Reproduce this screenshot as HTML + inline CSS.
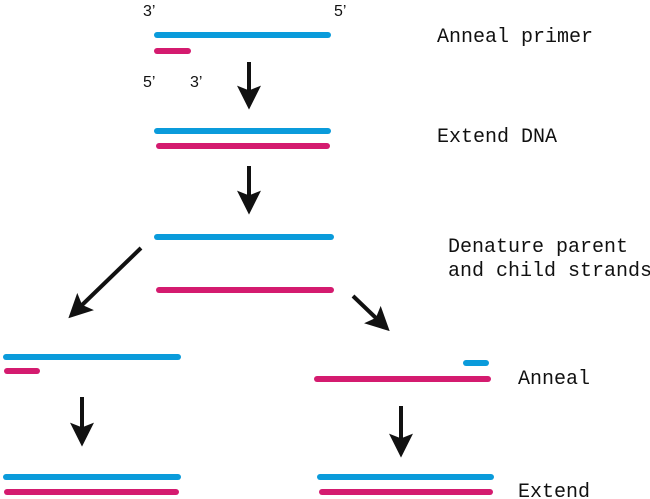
<!DOCTYPE html>
<html><head><style>html,body{margin:0;padding:0;background:#fff}svg{display:block}</style></head>
<body>
<svg width="650" height="499" viewBox="0 0 650 499" xmlns="http://www.w3.org/2000/svg">
<defs>
<marker id="ah" markerWidth="6" markerHeight="6" refX="1.6" refY="3" orient="auto" markerUnits="strokeWidth">
<path d="M0,0 L6,3 L0,6 L1.2,3 Z" fill="#111"/>
</marker>
</defs>
<g stroke-linecap="round" stroke-width="6" fill="none">
<line x1="157" y1="35" x2="328" y2="35" stroke="#0a9bdb"/>
<line x1="157" y1="51" x2="188" y2="51" stroke="#d41b6f"/>
<line x1="157" y1="131" x2="328" y2="131" stroke="#0a9bdb"/>
<line x1="159" y1="146" x2="327" y2="146" stroke="#d41b6f"/>
<line x1="157" y1="237" x2="331" y2="237" stroke="#0a9bdb"/>
<line x1="159" y1="290" x2="331" y2="290" stroke="#d41b6f"/>
<line x1="6" y1="357" x2="178" y2="357" stroke="#0a9bdb"/>
<line x1="7" y1="371" x2="37" y2="371" stroke="#d41b6f"/>
<line x1="466" y1="363" x2="486" y2="363" stroke="#0a9bdb"/>
<line x1="317" y1="379" x2="488" y2="379" stroke="#d41b6f"/>
<line x1="6" y1="477" x2="178" y2="477" stroke="#0a9bdb"/>
<line x1="7" y1="492" x2="176" y2="492" stroke="#d41b6f"/>
<line x1="320" y1="477" x2="491" y2="477" stroke="#0a9bdb"/>
<line x1="322" y1="492" x2="490" y2="492" stroke="#d41b6f"/>
</g>
<g stroke="#111" stroke-width="4" marker-end="url(#ah)">
<line x1="249" y1="62" x2="249" y2="92"/>
<line x1="249" y1="166" x2="249" y2="197"/>
<line x1="82" y1="397" x2="82" y2="429"/>
<line x1="401" y1="406" x2="401" y2="440"/>
<line x1="141" y1="248" x2="81" y2="306"/>
<line x1="353" y1="296" x2="377" y2="319"/>
</g>
<g font-family="'Liberation Sans', sans-serif" font-size="16" fill="#111">
<text x="143" y="16">3’</text>
<text x="334" y="16">5’</text>
<text x="143" y="87">5’</text>
<text x="190" y="87">3’</text>
</g>
<g font-family="'Liberation Mono', monospace" font-size="20" fill="#111">
<text x="437" y="42">Anneal primer</text>
<text x="437" y="142">Extend DNA</text>
<text x="448" y="252">Denature parent</text>
<text x="448" y="276">and child strands</text>
<text x="518" y="384">Anneal</text>
<text x="518" y="497">Extend</text>
</g>
</svg>
</body></html>
